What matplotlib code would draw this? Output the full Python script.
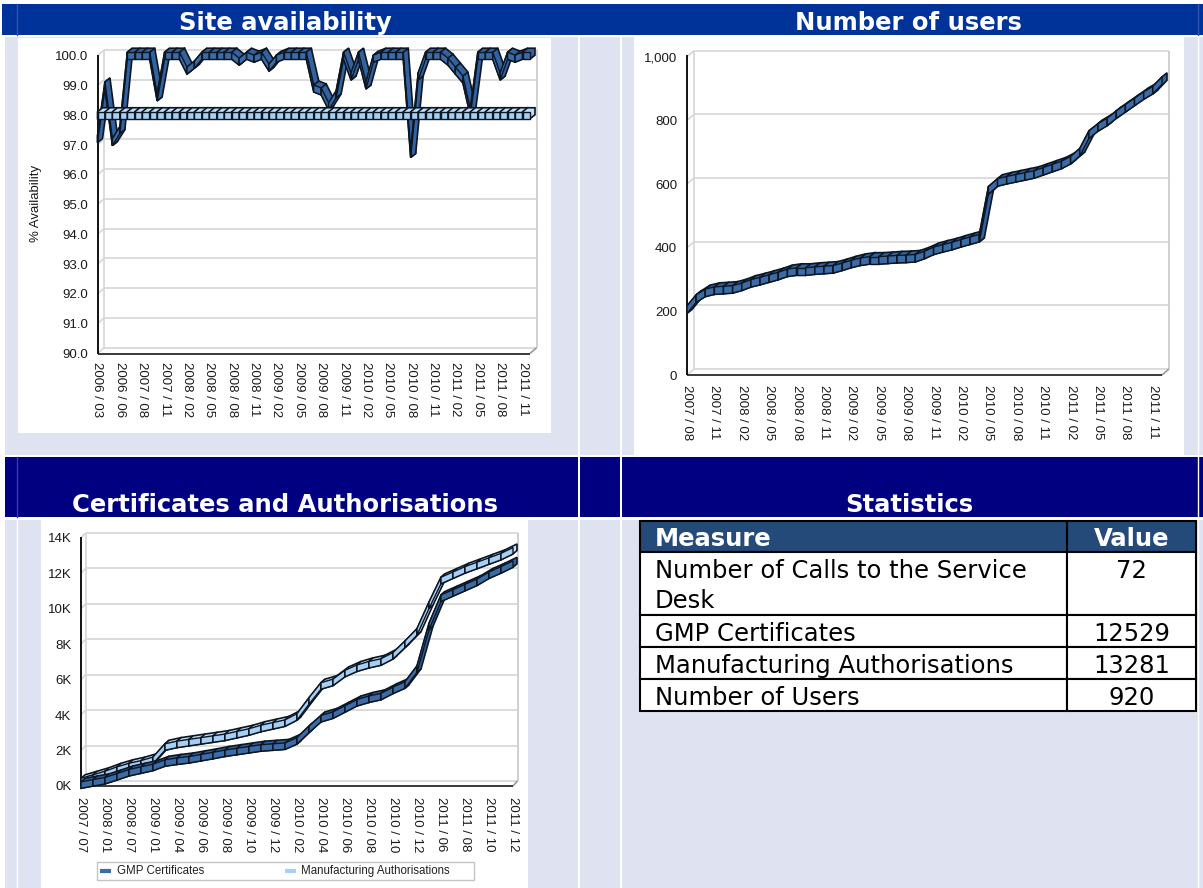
import textwrap
import matplotlib
matplotlib.use('Agg')
import matplotlib.pyplot as plt
from matplotlib.patches import Rectangle, Polygon

W, H = 1203, 888

# ---- data ------------------------------------------------------------
avail_ticks = ['2006 / 03', '2006 / 06', '2007 / 08', '2007 / 11', '2008 / 02',
               '2008 / 05', '2008 / 08', '2008 / 11', '2009 / 02', '2009 / 05',
               '2009 / 08', '2009 / 11', '2010 / 02', '2010 / 05', '2010 / 08',
               '2010 / 11', '2011 / 02', '2011 / 05', '2011 / 08', '2011 / 11']
availability = [97.2, 99.0, 97.1, 97.5, 100.0, 100.0, 100.0, 100.0, 98.6, 100.0,
                100.0, 100.0, 99.5, 99.7, 100.0, 100.0, 100.0, 100.0, 100.0, 99.8,
                100.0, 99.9, 100.0, 99.6, 99.9, 100.0, 100.0, 100.0, 100.0, 98.9,
                98.8, 98.3, 98.7, 100.0, 99.3, 100.0, 99.0, 99.9, 100.0, 100.0,
                100.0, 100.0, 96.7, 99.3, 100.0, 100.0, 100.0, 99.8, 99.5, 99.2,
                98.1, 100.0, 100.0, 100.0, 99.3, 100.0, 99.9, 100.0, 100.0]
target_pct = 98.0

users_ticks = ['2007 / 08', '2007 / 11', '2008 / 02', '2008 / 05', '2008 / 08',
               '2008 / 11', '2009 / 02', '2009 / 05', '2009 / 08', '2009 / 11',
               '2010 / 02', '2010 / 05', '2010 / 08', '2010 / 11', '2011 / 02',
               '2011 / 05', '2011 / 08', '2011 / 11']
users = [205, 240, 258, 265, 267, 269, 277, 288, 295, 303, 311, 321, 325, 325,
         328, 330, 332, 340, 349, 356, 360, 360, 362, 364, 365, 367, 377, 390,
         398, 405, 414, 422, 430, 580, 605, 612, 618, 624, 630, 640, 650, 660,
         675, 700, 755, 778, 795, 818, 838, 858, 878, 895, 925]

cert_ticks = ['2007 / 07', '2008 / 01', '2008 / 07', '2009 / 01', '2009 / 04',
              '2009 / 06', '2009 / 08', '2009 / 10', '2009 / 12', '2010 / 02',
              '2010 / 04', '2010 / 06', '2010 / 08', '2010 / 10', '2010 / 12',
              '2011 / 06', '2011 / 08', '2011 / 10', '2011 / 12']
gmp = [50, 180, 300, 520, 750, 900, 1050, 1300, 1400, 1480, 1600, 1720, 1850,
       1950, 2050, 2150, 2200, 2250, 2550, 3200, 3800, 4000, 4350, 4700, 4900,
       5050, 5400, 5700, 6600, 9000, 10600, 10900, 11200, 11500, 11900, 12200, 12529]
ma = [250, 450, 650, 900, 1100, 1250, 1450, 2200, 2350, 2450, 2550, 2650, 2750,
      2900, 3050, 3250, 3400, 3550, 3900, 4800, 5650, 5850, 6350, 6650, 6850,
      7000, 7350, 8000, 8700, 10200, 11600, 11900, 12200, 12450, 12700, 12950, 13281]

stat_names = ['Number of Calls to the Service Desk', 'GMP Certificates',
              'Manufacturing Authorisations', 'Number of Users']
stat_values = [72, 12529, 13281, 920]

TICK_FONT = 'Liberation Sans'
HEAD_FONT = 'DejaVu Sans'
LAV = '#dfe2f0'
BLUE = '#003399'
NAVY = '#000080'
DARK = '#3b6ca8'
DARK_TOP = '#3262a0'
LIGHT = '#a6cff5'
LIGHT_TOP = '#c2defa'
EDGE = '#0c1622'

fig = plt.figure(figsize=(W / 100, H / 100), dpi=100)
fig.patch.set_facecolor('white')
bg = fig.add_axes([0, 0, 1, 1])
bg.set_xlim(0, W)
bg.set_ylim(H, 0)
bg.axis('off')


def box(x0, y0, x1, y1, color, **kw):
    bg.add_patch(Rectangle((x0, y0), x1 - x0, y1 - y0, facecolor=color,
                           edgecolor=kw.pop('ec', 'none'), **kw))


# page background: headers, lavender cells, white chart panels
box(2, 4, W, 35, BLUE)
for cx0, cx1 in [(5, 578), (580, 620), (622, W)]:
    box(cx0, 37, cx1, 455, LAV)
    box(cx0, 457, cx1, 517, NAVY)
    box(cx0, 520, cx1, H, LAV)
bg.plot([17, 17], [4, 35], color='#2f55b0', lw=1)
bg.plot([17, 17], [457, 517], color='#3a3ab0', lw=1)
bg.plot([17, 17], [520, H], color='white', lw=1)
bg.plot([1198, 1198], [4, 35], color='#2f55b0', lw=1)
bg.plot([1198, 1198], [37, H], color='white', lw=1)
box(18, 38, 551, 433, 'white')
box(634, 37, 1184, 455, 'white')
box(41, 520, 528, H, 'white')

title_kw = dict(color='white', fontsize=17.5, fontweight='bold', family=HEAD_FONT,
                ha='center', va='baseline')
bg.text(285, 30, 'Site availability', **title_kw)
bg.text(908, 30, 'Number of users', **title_kw)
bg.text(285, 512, 'Certificates and Authorisations', **title_kw)
bg.text(909, 512, 'Statistics', **title_kw)


def px_units(ax):
    pos = ax.get_position()
    xl, yl = ax.get_xlim(), ax.get_ylim()
    return (xl[1] - xl[0]) / (pos.width * W), (yl[1] - yl[0]) / (pos.height * H)


def frame3d(ax, yticks, dx, dy):
    ux, uy = px_units(ax)
    x0, x1 = ax.get_xlim()
    y0, y1 = ax.get_ylim()
    ox, oy = dx * ux, dy * uy
    kw = dict(clip_on=False, zorder=1, solid_capstyle='butt')
    for t in yticks:
        ax.plot([x0 + ox, x1 + ox], [t + oy, t + oy], color='#d6d6d6', lw=1.2, **kw)
        ax.plot([x0, x0 + ox], [t, t + oy], color='#d6d6d6', lw=1.2, **kw)
    ax.plot([x1 + ox, x1 + ox], [y0 + oy, y1 + oy], color='#c8c8c8', lw=1.2, **kw)
    ax.plot([x0 + ox, x0 + ox], [y0 + oy, y1 + oy], color='#d6d6d6', lw=1.2, **kw)
    ax.plot([x1, x1 + ox], [y0, y0 + oy], color='#9a9a9a', lw=1.2, **kw)
    ax.plot([x0, x1], [y0, y0], color='#3a3a3a', lw=1.4, **kw)
    ax.plot([x0, x0], [y0, y1 + oy * 0.2], color='#111111', lw=1.4, **kw)


def hull(pts):
    pts = sorted(set(pts))

    def half(seq):
        out = []
        for p in seq:
            while len(out) >= 2 and ((out[-1][0] - out[-2][0]) * (p[1] - out[-2][1])
                                     - (out[-1][1] - out[-2][1]) * (p[0] - out[-2][0])) <= 0:
                out.pop()
            out.append(p)
        return out[:-1]
    return half(pts) + half(pts[::-1])


def ribbon(ax, ys, h, dx, dy, face, side, z):
    ux, uy = px_units(ax)
    hh, ox, oy = h * uy / 2, dx * ux, dy * uy
    for i in range(len(ys) - 1):
        xa, xb, ya, yb = i, i + 1, ys[i], ys[i + 1]
        front = [(xa, ya - hh), (xb, yb - hh), (xb, yb + hh), (xa, ya + hh)]
        body = hull(front + [(x + ox, y + oy) for x, y in front])
        ax.add_patch(Polygon(body, closed=True, fc=side, ec=EDGE, lw=1.2,
                             zorder=z, clip_on=False))
        ax.add_patch(Polygon(front, closed=True, fc=face, ec=EDGE, lw=1.0,
                             zorder=z, clip_on=False))


def chart(area, n, ylim, yticks, ylabels, ticks, step, wall, xpad):
    x0, y0, x1, y1 = area
    ax = fig.add_axes([x0 / W, 1 - y1 / H, (x1 - x0) / W, (y1 - y0) / H])
    ax.set_xlim(0, n - 1)
    ax.set_ylim(*ylim)
    ax.patch.set_visible(False)
    for s in ax.spines.values():
        s.set_visible(False)
    ax.set_yticks(yticks, ylabels, fontsize=9.5, family=TICK_FONT, color='#1a1a1a')
    ax.set_xticks(list(range(0, n, step))[:len(ticks)], ticks, rotation=270,
                  fontsize=9.5, family=TICK_FONT, color='#1a1a1a')
    ax.tick_params(length=0)
    ax.tick_params(axis='y', pad=7)
    ax.tick_params(axis='x', pad=xpad)
    frame3d(ax, yticks, *wall)
    return ax


# ---- site availability ----
yt1 = list(range(90, 101))
ax1 = chart((97.5, 55.7, 530, 353.5), len(availability), (90, 100), yt1,
            ['%.1f' % v for v in yt1], avail_ticks, 3, (6.5, 5.7), 5.8)
ribbon(ax1, availability, 7, 5, 4, DARK, DARK_TOP, 3)
ribbon(ax1, [target_pct] * len(availability), 7, 5, 4, LIGHT, LIGHT_TOP, 4)
bg.text(36, 203, '% Availability', rotation=90, ha='center', va='center',
        fontsize=9.5, family=TICK_FONT, color='#1a1a1a')

# ---- number of users ----
yt2 = list(range(0, 1001, 200))
ax2 = chart((687, 56.7, 1162, 375), len(users), (0, 1000), yt2,
            ['{:,}'.format(v) for v in yt2], users_ticks, 3, (7, 6), 7)
ribbon(ax2, users, 7.5, 5, 4, DARK, DARK_TOP, 3)

# ---- certificates and authorisations ----
yt3 = list(range(0, 14001, 2000))
ax3 = chart((81, 538, 513, 786), len(gmp), (0, 14000), yt3,
            ['%dK' % (v // 1000) for v in yt3], cert_ticks, 2, (4.5, 5), 8)
ribbon(ax3, ma, 6.5, 4, 3.5, LIGHT, LIGHT_TOP, 3)
ribbon(ax3, gmp, 6.5, 4, 3.5, DARK, DARK_TOP, 4)

# legend
box(97, 862, 474, 880, 'white', ec='#c4c4c4', lw=1)
bg.plot([100, 111], [871, 871], color=DARK, lw=3, solid_capstyle='butt')
bg.text(117, 871, 'GMP Certificates', va='center', fontsize=8.3,
        family=TICK_FONT, color='#222222')
bg.plot([285, 296], [871, 871], color=LIGHT, lw=3, solid_capstyle='butt')
bg.text(301, 871, 'Manufacturing Authorisations', va='center', fontsize=8.3,
        family=TICK_FONT, color='#222222')

# ---- statistics table ----
tx0, tsplit, tx1 = 640, 1067, 1196
top = 521
box(tx0, top, tx1, top + 31, '#244a7a', ec='black', lw=1.5)
bg.plot([tsplit, tsplit], [top, top + 31], color='black', lw=1.5)
hdr = dict(color='white', fontsize=17.5, fontweight='bold', family=HEAD_FONT,
           va='baseline')
bg.text(655, top + 25, 'Measure', **hdr)
bg.text((tsplit + tx1) / 2, top + 25, 'Value', ha='center', **hdr)
y = top + 31
for name, val in zip(stat_names, stat_values):
    lines = textwrap.wrap(name, 30)
    rh = 31 * len(lines) + 1
    box(tx0, y, tsplit, y + rh, 'white', ec='black', lw=1.5)
    box(tsplit, y, tx1, y + rh, 'white', ec='black', lw=1.5)
    for k, line in enumerate(lines):
        bg.text(655, y + 26 + 30 * k, line, fontsize=17.5, family=HEAD_FONT,
                color='black', va='baseline')
    bg.text((tsplit + tx1) / 2, y + 26, str(val), fontsize=17.5, family=HEAD_FONT,
            color='black', ha='center', va='baseline')
    y += rh

fig.savefig('out.png', dpi=100)
